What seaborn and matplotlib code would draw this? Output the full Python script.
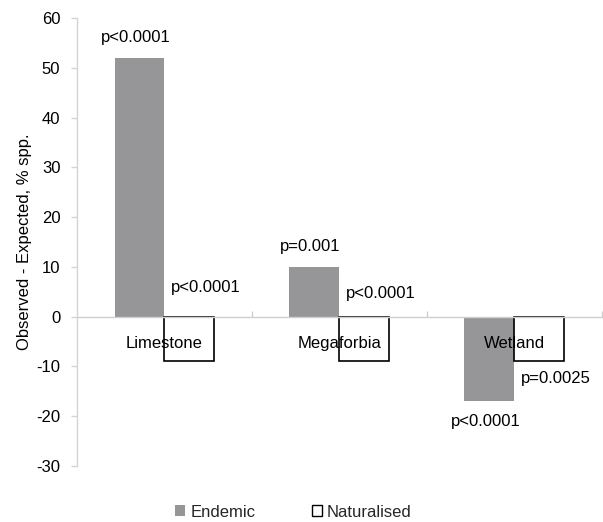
import matplotlib
matplotlib.use('Agg')
import matplotlib.pyplot as plt
import seaborn as sns
import pandas as pd
from matplotlib.patches import Patch

# ---- data ----
habitats = ['Limestone', 'Megaforbia', 'Wetland']
groups = ['Endemic', 'Naturalised']
endemic = [52, 10, -17]
naturalised = [-9, -9, -9]
endemic_p = ['p<0.0001', 'p=0.001', 'p<0.0001']
naturalised_p = ['p<0.0001', 'p<0.0001', 'p=0.0025']
yticks = [-30, -20, -10, 0, 10, 20, 30, 40, 50, 60]

# label placement (layout only)
nat_label_y = [5.8, 4.6, -12.5]

sns.set_theme(style='white')
plt.rcParams['font.family'] = ['Liberation Sans', 'DejaVu Sans']

df = pd.DataFrame({
    'habitat': habitats * 2,
    'group': ['Endemic'] * len(habitats) + ['Naturalised'] * len(habitats),
    'value': endemic + naturalised,
})

GREY = '#969598'
fig = plt.figure(figsize=(6.03, 5.22), dpi=100)
ax = fig.add_axes([0.1277, 0.1073, 0.8703, 0.8582])

sns.barplot(data=df, x='habitat', y='value', hue='group', order=habitats,
            hue_order=groups, palette={'Endemic': GREY, 'Naturalised': 'white'},
            width=0.571, gap=0, saturation=1, legend=False, ax=ax, errorbar=None)

for bar in ax.containers[0]:
    bar.set_edgecolor('none')
for bar in ax.containers[1]:
    bar.set_edgecolor('black')
    bar.set_linewidth(1.2)

ax.set_xlim(-0.5, 2.5)
ax.set_ylim(-30, 60)
ax.set_yticks(yticks)
ax.set_yticklabels([str(t) for t in yticks])

# p-value labels
for bar, lab, v in zip(ax.containers[0], endemic_p, endemic):
    cx = bar.get_x() + bar.get_width() / 2 - 0.022
    cy = v + 4.1 if v > 0 else v - 4.1
    ax.text(cx, cy, lab, ha='center', va='center', fontsize=12, color='black')
for bar, lab, ly in zip(ax.containers[1], naturalised_p, nat_label_y):
    ax.text(bar.get_x() + 0.035, ly, lab, ha='left', va='center', fontsize=12, color='black')

# axes styling
ax.set_axisbelow(False)
for s in ['top', 'right']:
    ax.spines[s].set_visible(False)
ax.spines['left'].set_color('#d4d4d4')
ax.spines['left'].set_linewidth(1.0)
ax.spines['bottom'].set_position(('data', 0))
ax.spines['bottom'].set_color('#cfcfcf')
ax.spines['bottom'].set_linewidth(1.0)

ax.set_xticks([0, 1, 2])
ax.set_xticklabels(habitats)
ax.set_xticks([0.5, 1.5, 2.5], minor=True)
ax.tick_params(axis='x', which='major', length=0, pad=14, labelsize=12, labelcolor='black')
ax.tick_params(axis='x', which='minor', bottom=True, direction='in', length=4, color='#cfcfcf')
ax.tick_params(axis='y', which='major', left=True, direction='out', length=4, width=1,
               color='#d4d4d4', pad=8, labelsize=12, labelcolor='black')
ax.set_xlabel('')
ax.set_ylabel('Observed - Expected, % spp.', fontsize=12, color='black')
ax.yaxis.set_label_coords(-0.086, 0.5)

handles = [Patch(facecolor=GREY, edgecolor='none', label='Endemic'),
           Patch(facecolor='white', edgecolor='black', linewidth=1.0, label='Naturalised')]
fig.legend(handles=handles, loc='center', bbox_to_anchor=(0.487, 0.019), ncol=2,
           frameon=False, fontsize=12, handlelength=0.6, handleheight=0.6,
           handletextpad=0.3, columnspacing=3.4, borderpad=0)

fig.savefig('out.png', dpi=100)
